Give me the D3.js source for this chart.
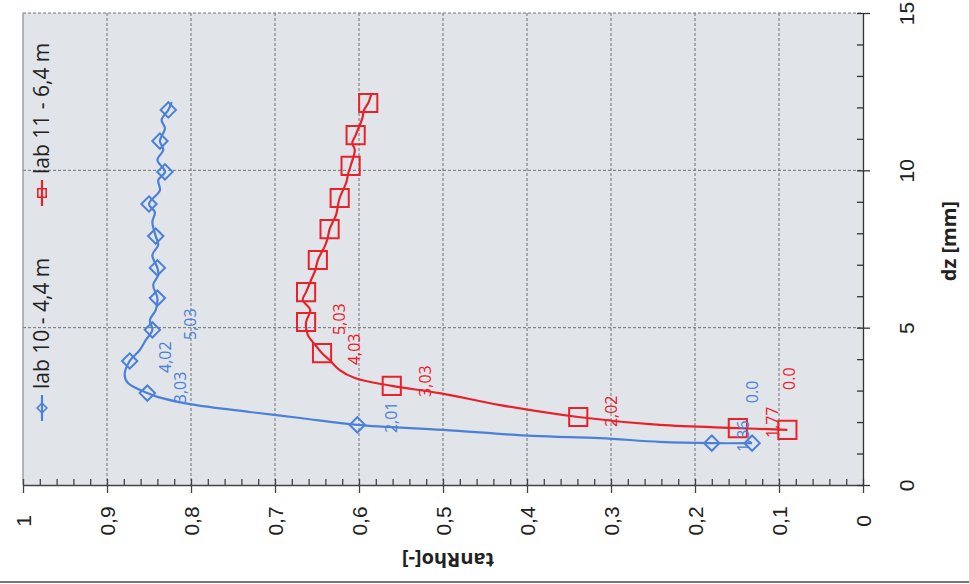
<!DOCTYPE html>
<html>
<head>
<meta charset="utf-8">
<script src="https://cdn.jsdelivr.net/npm/d3@7"></script>
<style>
  body { margin: 0; background: #fff; }
  svg { display: block; font-family: "Open Sans", "Noto Sans", sans-serif; }
</style>
</head>
<body>
<svg id="chart" width="969" height="584"></svg>
<script>
// series: lab 10 - 4,4 m (blue)
const blueTan = [0.132, 0.18, 0.242, 0.313, 0.393, 0.5, 0.602, 0.67, 0.73, 0.801, 0.84, 0.852,
  0.875, 0.879, 0.873, 0.861, 0.854, 0.846, 0.849, 0.842, 0.84, 0.845, 0.839, 0.84,
  0.846, 0.839, 0.842, 0.846, 0.843, 0.85, 0.837, 0.839, 0.831, 0.84, 0.833, 0.837,
  0.831, 0.835, 0.827, 0.823];
const blueDz = [1.33, 1.33, 1.37, 1.49, 1.56, 1.75, 1.91, 2.13, 2.32, 2.57, 2.8, 2.92,
  3.24, 3.5, 3.94, 4.29, 4.6, 4.93, 5.24, 5.56, 5.94, 6.36, 6.67, 6.9,
  7.31, 7.63, 7.91, 8.36, 8.67, 8.93, 9.37, 9.69, 9.95, 10.33, 10.65, 10.93,
  11.34, 11.6, 11.92, 12.17];
const blueMarks = [0, 1, 6, 11, 14, 17, 20, 23, 26, 29, 32, 35, 38];

// series: lab 11 - 6,4 m (red)
const redTan = [0.09, 0.149, 0.242, 0.339, 0.432, 0.504, 0.561, 0.605, 0.623, 0.635, 0.644,
  0.652, 0.661, 0.663, 0.658, 0.667, 0.663, 0.656, 0.652, 0.649, 0.64, 0.637, 0.635,
  0.627, 0.625, 0.623, 0.615, 0.613, 0.61, 0.605, 0.608, 0.604, 0.596, 0.594, 0.589, 0.585];
const redDz = [1.75, 1.81, 1.91, 2.16, 2.54, 2.92, 3.15, 3.4, 3.65, 3.97, 4.19,
  4.45, 4.77, 5.18, 5.56, 5.88, 6.13, 6.58, 6.83, 7.15, 7.63, 7.88, 8.13,
  8.61, 8.9, 9.12, 9.63, 9.88, 10.14, 10.65, 10.87, 11.12, 11.66, 11.92, 12.14, 12.46];
const redMarks = [0, 1, 3, 6, 10, 13, 16, 19, 22, 25, 28, 31, 34];

// data labels (text, tanRho, dz where the label starts)
const blueLabText = ["0.0", "1,36", "2,01", "3,03", "4,02", "5,03"];
const blueLabTan = [0.132, 0.142, 0.561, 0.813, 0.831, 0.801];
const blueLabDz = [2.6, 1.05, 1.65, 2.6, 3.56, 4.61];
const redLabText = ["0.0", "1,77", "2,02", "3,03", "4,03", "5,03"];
const redLabTan = [0.088, 0.108, 0.299, 0.521, 0.605, 0.623];
const redLabDz = [3.02, 1.49, 1.84, 2.8, 3.81, 4.77];

const tanTicks = [1, 0.9, 0.8, 0.7, 0.6, 0.5, 0.4, 0.3, 0.2, 0.1, 0];
const dzTicks = [0, 5, 10, 15];
const legendNames = ["lab 10 - 4,4 m", "lab 11 - 6,4 m"];

const blue = "#4a80d8", red = "#e8212b";

const svg = d3.select("#chart");

// chart is drawn turned a quarter turn: tanRho runs right-to-left along the bottom, dz upwards
const x = d3.scaleLinear().domain([1, 0]).range([23, 863]);
const y = d3.scaleLinear().domain([0, 15]).range([485, 13]);

// plot area
svg.append("rect")
  .attr("x", x(1)).attr("y", y(15))
  .attr("width", x(0) - x(1)).attr("height", y(0) - y(15))
  .attr("fill", "#e1e4e8");

// gridlines
svg.append("g").selectAll("line")
  .data(tanTicks.slice(1, -1))
  .join("line")
  .attr("x1", d => x(d)).attr("x2", d => x(d))
  .attr("y1", y(15)).attr("y2", y(0))
  .attr("stroke", "#6f7276").attr("stroke-width", 1).attr("stroke-dasharray", "3,2");
svg.append("g").selectAll("line")
  .data(dzTicks.slice(1))
  .join("line")
  .attr("x1", x(1)).attr("x2", x(0))
  .attr("y1", d => y(d)).attr("y2", d => y(d))
  .attr("stroke", "#6f7276").attr("stroke-width", 1).attr("stroke-dasharray", "3,2");
svg.append("line")
  .attr("x1", x(1)).attr("x2", x(1)).attr("y1", y(15)).attr("y2", y(0))
  .attr("stroke", "#8a8c90").attr("stroke-width", 1.2);

const fmt = v => v === 0 ? "0" : v === 1 ? "1" : d3.format(".1f")(v).replace(".", ",");

// tanRho axis (bottom)
const xMinor = svg.append("g").attr("transform", `translate(0,${y(0)})`)
  .call(d3.axisTop(x).tickValues(d3.range(0, 51).map(i => i / 50)).tickSize(6).tickFormat(""));
const xAxis = svg.append("g").attr("transform", `translate(0,${y(0)})`)
  .call(d3.axisBottom(x).tickValues(tanTicks).tickSize(8).tickSizeOuter(0).tickFormat(fmt));
[xMinor, xAxis].forEach(g => {
  g.selectAll("path,line").attr("stroke", "#444").attr("stroke-width", 1.3);
});
xAxis.selectAll("text")
  .attr("y", 0).attr("dy", "0.35em")
  .attr("transform", "translate(0,36) rotate(-90)")
  .attr("text-anchor", "middle")
  .attr("font-size", 21).attr("fill", "#222");
xMinor.select(".domain").remove();

// dz axis (right)
const yMinor = svg.append("g").attr("transform", `translate(${x(0)},0)`)
  .call(d3.axisLeft(y).tickValues(d3.range(0, 16)).tickSize(6).tickFormat(""));
const yAxis = svg.append("g").attr("transform", `translate(${x(0)},0)`)
  .call(d3.axisRight(y).tickValues(dzTicks).tickSize(7).tickSizeOuter(0));
[yMinor, yAxis].forEach(g => {
  g.selectAll("path,line").attr("stroke", "#333").attr("stroke-width", 1.3);
});
yMinor.select(".domain").remove();
yAxis.selectAll("text")
  .attr("x", 0).attr("dy", "0.35em")
  .attr("transform", "translate(44,0) rotate(-90)")
  .attr("text-anchor", "middle")
  .attr("font-size", 21).attr("fill", "#222");

// axis titles
svg.append("text")
  .attr("transform", `translate(${(x(0.5) + 5)},560) rotate(180)`)
  .attr("text-anchor", "middle").attr("dy", "0.35em")
  .attr("font-size", 20).attr("font-weight", "bold").attr("fill", "#222")
  .text("tanRho[-]");
svg.append("text")
  .attr("transform", `translate(949,${y(7.75)}) rotate(-90)`)
  .attr("text-anchor", "middle").attr("dy", "0.35em")
  .attr("font-size", 20).attr("font-weight", "bold").attr("fill", "#222")
  .text("dz [mm]");

// lines
const line = d3.line().curve(d3.curveCatmullRom.alpha(0.5)).x(d => x(d[0])).y(d => y(d[1]));
const bluePts = blueTan.map((t, i) => [t, blueDz[i]]);
const redPts = redTan.map((t, i) => [t, redDz[i]]);

svg.append("path").datum(bluePts).attr("d", line)
  .attr("fill", "none").attr("stroke", blue).attr("stroke-width", 2.2);
svg.append("path").datum(redPts).attr("d", line)
  .attr("fill", "none").attr("stroke", red).attr("stroke-width", 2.2);

const diamond = d3.symbol().type(d3.symbolDiamond2).size(150);
const square = d3.symbol().type(d3.symbolSquare2).size(420);

svg.append("g").selectAll("path")
  .data(blueMarks.map(i => bluePts[i]))
  .join("path")
  .attr("d", diamond)
  .attr("transform", d => `translate(${x(d[0])},${y(d[1])}) rotate(90)`)
  .attr("fill", "none").attr("stroke", blue).attr("stroke-width", 2);
svg.append("g").selectAll("path")
  .data(redMarks.map(i => redPts[i]))
  .join("path")
  .attr("d", square)
  .attr("transform", d => `translate(${x(d[0])},${y(d[1])})`)
  .attr("fill", "none").attr("stroke", red).attr("stroke-width", 2);

// data labels
function labels(texts, tans, dzs, color) {
  svg.append("g").selectAll("text")
    .data(texts.map((t, i) => ({ t, tan: tans[i], dz: dzs[i] })))
    .join("text")
    .attr("transform", d => `translate(${x(d.tan)},${y(d.dz)}) rotate(-90)`)
    .attr("dy", "0.35em")
    .attr("font-size", 16).attr("fill", color)
    .text(d => d.t);
}
labels(blueLabText, blueLabTan, blueLabDz, blue);
labels(redLabText, redLabTan, redLabDz, red);

// legend
const legend = svg.append("g");
const legendStarts = [421, 206];
legendNames.forEach((name, i) => {
  const color = i === 0 ? blue : red;
  const g = legend.append("g").attr("transform", `translate(42,${legendStarts[i]}) rotate(-90)`);
  g.append("line").attr("x1", 0).attr("x2", 26).attr("stroke", color).attr("stroke-width", 2.2);
  g.append("path")
    .attr("d", i === 0 ? d3.symbol().type(d3.symbolDiamond2).size(60) : d3.symbol().type(d3.symbolSquare2).size(90))
    .attr("transform", "translate(13,0)" + (i === 0 ? " rotate(90)" : ""))
    .attr("fill", "none").attr("stroke", color).attr("stroke-width", 1.6);
  g.append("text").attr("x", 32).attr("dy", "0.35em")
    .attr("font-size", 21).attr("fill", "#222").text(name);
});

// scan edge at the bottom
svg.append("line").attr("x1", 0).attr("x2", 969).attr("y1", 582).attr("y2", 582)
  .attr("stroke", "#777").attr("stroke-width", 2);
</script>
</body>
</html>
